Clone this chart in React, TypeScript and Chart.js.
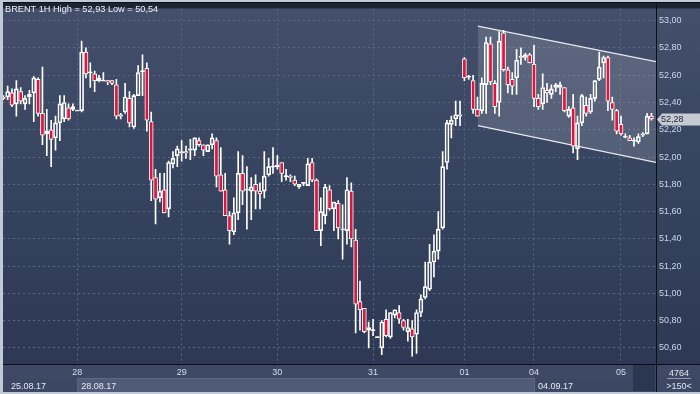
import React, { useEffect, useRef } from 'react';
import { Chart, registerables } from 'chart.js';

Chart.register(...registerables);

const FONT = '"Liberation Sans", Arial, sans-serif';

const titleText = 'BRENT 1H High = 52,93 Low = 50,54';

const opens = [
  52.43, 52.44, 52.47, 52.39, 52.48, 52.39, 52.44, 52.47, 52.57, 52.32,
  52.17, 52.20, 52.14, 52.25, 52.28, 52.36, 52.35, 52.34, 52.34, 52.77,
  52.62, 52.61, 52.56, 52.56, 52.56, 52.56, 52.53, 52.30, 52.33, 52.43,
  52.22, 52.45, 52.63, 52.65, 52.26, 51.85, 51.70, 51.76, 51.62, 51.95,
  52.01, 52.03, 52.04, 52.05, 52.05, 52.12, 52.09, 52.04, 52.09, 52.12,
  51.87, 51.76, 51.57, 51.45, 51.59, 51.88, 51.76, 51.75, 51.80, 51.75,
  51.75, 51.87, 51.93, 51.93, 51.96, 51.86, 51.86, 51.83, 51.78, 51.81,
  51.79, 51.96, 51.83, 51.46, 51.57, 51.76, 51.62, 51.66, 51.47, 51.46,
  51.75, 51.39, 50.94, 50.89, 50.73, 50.73, 50.68, 50.60, 50.81, 50.68,
  50.84, 50.86, 50.80, 50.72, 50.74, 50.70, 50.86, 50.97, 51.03, 51.23,
  51.31, 51.48, 51.96, 52.24, 52.28, 52.30, 52.72, 52.59, 52.56, 52.35,
  52.34, 52.53, 52.83, 52.54, 52.40, 52.91, 52.64, 52.57, 52.58, 52.73,
  52.73, 52.75, 52.68, 52.43, 52.39, 52.49, 52.46, 52.51, 52.51, 52.51,
  52.30, 52.36, 52.06, 52.25, 52.38, 52.33, 52.43, 52.57, 52.69, 52.73,
  52.40, 52.34, 52.24, 52.15, 52.14, 52.12, 52.11, 52.16, 52.17, 52.30,
];
const highs = [
  52.45, 52.52, 52.50, 52.56, 52.51, 52.45, 52.49, 52.59, 52.58, 52.66,
  52.35, 52.27, 52.30, 52.45, 52.45, 52.39, 52.39, 52.34, 52.85, 52.80,
  52.69, 52.63, 52.60, 52.62, 52.56, 52.56, 52.57, 52.32, 52.54, 52.48,
  52.46, 52.67, 52.75, 52.69, 52.33, 51.91, 51.88, 51.88, 51.97, 52.04,
  52.08, 52.12, 52.08, 52.13, 52.14, 52.14, 52.09, 52.09, 52.17, 52.14,
  52.07, 51.88, 51.60, 51.70, 52.04, 52.01, 51.93, 51.85, 51.87, 51.81,
  52.04, 51.99, 52.07, 52.01, 51.96, 51.91, 51.87, 51.86, 51.80, 51.81,
  51.99, 51.99, 51.84, 51.70, 51.80, 51.79, 51.67, 51.68, 51.65, 51.85,
  51.81, 51.47, 51.09, 50.89, 50.79, 50.81, 50.68, 50.80, 50.88, 50.86,
  50.88, 50.91, 50.81, 50.81, 50.80, 50.88, 50.99, 51.23, 51.36, 51.43,
  51.60, 52.04, 52.27, 52.30, 52.41, 52.41, 52.73, 52.60, 52.60, 52.44,
  52.58, 52.88, 52.88, 52.56, 52.92, 52.93, 52.66, 52.62, 52.79, 52.80,
  52.76, 52.76, 52.82, 52.46, 52.61, 52.54, 52.53, 52.54, 52.55, 52.51,
  52.37, 52.46, 52.30, 52.46, 52.44, 52.46, 52.56, 52.77, 52.74, 52.74,
  52.44, 52.35, 52.30, 52.17, 52.16, 52.14, 52.17, 52.18, 52.32, 52.32,
];
const lows = [
  52.42, 52.42, 52.37, 52.30, 52.39, 52.35, 52.39, 52.26, 52.30, 52.09,
  52.01, 51.93, 52.05, 52.12, 52.26, 52.27, 52.34, 52.34, 52.33, 52.58,
  52.51, 52.48, 52.55, 52.56, 52.53, 52.53, 52.28, 52.28, 52.32, 52.22,
  52.21, 52.45, 52.45, 52.19, 51.68, 51.51, 51.67, 51.59, 51.56, 51.92,
  51.93, 51.97, 51.99, 51.98, 52.01, 52.08, 52.01, 52.04, 52.06, 51.78,
  51.75, 51.57, 51.36, 51.43, 51.54, 51.65, 51.47, 51.54, 51.62, 51.62,
  51.70, 51.86, 51.88, 51.91, 51.82, 51.83, 51.82, 51.79, 51.77, 51.79,
  51.79, 51.82, 51.46, 51.35, 51.51, 51.61, 51.46, 51.40, 51.25, 51.36,
  51.34, 50.71, 50.73, 50.71, 50.60, 50.69, 50.68, 50.55, 50.68, 50.67,
  50.82, 50.78, 50.73, 50.65, 50.54, 50.56, 50.83, 50.96, 51.02, 51.12,
  51.25, 51.47, 51.91, 52.14, 52.23, 52.23, 52.56, 52.57, 52.32, 52.30,
  52.32, 52.32, 52.53, 52.32, 52.30, 52.63, 52.47, 52.46, 52.46, 52.68,
  52.71, 52.69, 52.37, 52.35, 52.35, 52.40, 52.43, 52.48, 52.46, 52.33,
  52.29, 52.03, 51.98, 52.23, 52.30, 52.32, 52.41, 52.56, 52.58, 52.34,
  52.27, 52.17, 52.16, 52.14, 52.12, 52.08, 52.10, 52.15, 52.17, 52.27,
];
const closes = [
  52.44, 52.48, 52.38, 52.50, 52.41, 52.43, 52.46, 52.58, 52.32, 52.16,
  52.19, 52.13, 52.25, 52.39, 52.40, 52.28, 52.37, 52.34, 52.77, 52.61,
  52.62, 52.56, 52.58, 52.56, 52.55, 52.54, 52.30, 52.31, 52.44, 52.25,
  52.45, 52.62, 52.63, 52.27, 51.83, 51.69, 51.75, 51.59, 51.96, 51.99,
  52.06, 52.04, 52.03, 52.06, 52.14, 52.09, 52.05, 52.09, 52.14, 51.86,
  51.75, 51.57, 51.46, 51.59, 51.88, 51.75, 51.76, 51.78, 51.75, 51.73,
  51.86, 51.93, 51.93, 51.94, 51.88, 51.86, 51.85, 51.80, 51.80, 51.81,
  51.95, 51.83, 51.46, 51.60, 51.78, 51.62, 51.67, 51.48, 51.47, 51.76,
  51.40, 50.92, 50.88, 50.72, 50.75, 50.73, 50.68, 50.79, 50.69, 50.86,
  50.88, 50.81, 50.75, 50.75, 50.68, 50.86, 50.96, 51.05, 51.23, 51.31,
  51.47, 51.93, 52.25, 52.27, 52.31, 52.31, 52.58, 52.59, 52.35, 52.30,
  52.54, 52.84, 52.55, 52.37, 52.85, 52.64, 52.53, 52.52, 52.71, 52.74,
  52.75, 52.69, 52.43, 52.37, 52.51, 52.47, 52.50, 52.53, 52.53, 52.34,
  52.35, 52.08, 52.25, 52.45, 52.32, 52.43, 52.56, 52.66, 52.73, 52.41,
  52.35, 52.19, 52.17, 52.15, 52.12, 52.12, 52.15, 52.17, 52.30, 52.28,
];

const dayStarts = [17, 41, 63, 85, 106, 122, 142];
const dayLabels = ['28', '29', '30', '31', '01', '04', '05'];
const weekStarts = [0, 17, 122];
const weekLabels = ['25.08.17', '28.08.17', '04.09.17'];
const yTicks = [50.6, 50.8, 51.0, 51.2, 51.4, 51.6, 51.8, 52.0, 52.2, 52.4, 52.6, 52.8, 53.0];
const channelX = [109.1, 150.05];
const channelUpper = [52.96, 52.70];
const channelLower = [52.23, 51.96];
const barsTotal = '4764';
const barsVisible = '>150<';

const fmt = (v: number) => v.toFixed(2).replace('.', ',');
const GRID = '#5a6782';
const DASH = [2, 3];

export default function App() {
  const ref = useRef<HTMLCanvasElement | null>(null);

  useEffect(() => {
    document.body.style.margin = '0';
    const canvas = ref.current;
    if (!canvas) return;

    const bodyData = opens.map((o, i) => {
      const c = closes[i];
      let lo = Math.min(o, c);
      let hi = Math.max(o, c);
      if (hi - lo < 0.006) {
        const m = (hi + lo) / 2;
        lo = m - 0.004;
        hi = m + 0.004;
      }
      return { x: i, y: [lo, hi] };
    });
    const bodyColors = opens.map((o, i) =>
      Math.abs(closes[i] - o) < 0.006 ? '#ffffff' : closes[i] < o ? '#e0143c' : 'rgba(0,0,0,0)'
    );
    const upperWick = opens.map((o, i) => ({ x: i, y: [Math.max(o, closes[i]), highs[i]] }));
    const lowerWick = opens.map((o, i) => ({ x: i, y: [lows[i], Math.min(o, closes[i])] }));

    const decor = {
      id: 'decor',
      beforeDraw(chart: any) {
        const { ctx, chartArea: a, width, height } = chart;
        ctx.save();
        ctx.fillStyle = '#c2c9d6';
        ctx.fillRect(0, 0, width, height);
        ctx.fillStyle = '#1c2333';
        ctx.fillRect(3, 2, width - 3, 390);
        const g = ctx.createLinearGradient(0, a.top, 0, a.bottom);
        g.addColorStop(0, '#434f6b');
        g.addColorStop(0.5, '#36435f');
        g.addColorStop(1, '#2d3954');
        ctx.fillStyle = g;
        ctx.fillRect(3, a.top, width - 3, a.bottom - a.top);
        // bottom rows
        ctx.fillStyle = '#3d4965';
        ctx.fillRect(3, a.bottom, width - 3, 14);
        ctx.fillStyle = '#3b4763';
        ctx.fillRect(3, a.bottom + 14, width - 3, 392 - a.bottom - 14);
        const xs = chart.scales.x;
        const wx1 = xs.getPixelForValue(weekStarts[1]);
        const wx2 = xs.getPixelForValue(weekStarts[2]);
        ctx.fillStyle = '#4f5b78';
        ctx.fillRect(wx1, a.bottom + 14, wx2 - wx1, 392 - a.bottom - 14);
        ctx.fillStyle = '#5d6985';
        ctx.fillRect(wx1, a.bottom + 14, wx2 - wx1, 1);
        ctx.fillRect(wx1, a.bottom + 14, 1, 392 - a.bottom - 14);
        ctx.fillRect(wx2, a.bottom + 14, 1, 392 - a.bottom - 14);
        // scroll box
        ctx.fillStyle = '#2b3650';
        ctx.fillRect(a.right - 23, a.bottom + 1, 22, 392 - a.bottom - 2);
        ctx.restore();
      },
      afterDraw(chart: any) {
        const { ctx, chartArea: a, width } = chart;
        const xs = chart.scales.x;
        const ys = chart.scales.y;
        ctx.save();
        // separators
        ctx.fillStyle = '#0b0f18';
        ctx.fillRect(a.right, 2, 1, 390);
        ctx.fillRect(3, a.bottom, width - 3, 1);
        ctx.fillRect(3, 2, width - 3, 1);
        // title
        ctx.font = '9.2px ' + FONT;
        ctx.fillStyle = '#eef1f7';
        ctx.textBaseline = 'alphabetic';
        ctx.textAlign = 'left';
        ctx.fillText(titleText, 5, 12);
        // week labels
        ctx.font = '9px ' + FONT;
        ctx.fillStyle = '#e4e9f2';
        weekLabels.forEach((lbl, k) => {
          const px = xs.getPixelForValue(weekStarts[k]);
          const tx = Math.max(a.left + 8, px + 4);
          ctx.fillText(lbl, tx, 389);
        });
        // bar counter
        const cx = (a.right + width) / 2 + 1;
        ctx.textAlign = 'center';
        ctx.fillStyle = '#dfe5f0';
        ctx.fillText(barsTotal, cx, 376);
        ctx.fillText(barsVisible, cx, 389);
        ctx.fillStyle = '#8e9ab2';
        ctx.fillRect(cx - 12, 378, 24, 1);
        // price tag
        const last = closes[closes.length - 1];
        const y = Math.round(ys.getPixelForValue(last)) + 0.5;
        ctx.fillStyle = '#c6cad2';
        ctx.beginPath();
        ctx.moveTo(a.right + 1, y);
        ctx.lineTo(a.right + 6, y - 6);
        ctx.lineTo(width, y - 6);
        ctx.lineTo(width, y + 6);
        ctx.lineTo(a.right + 6, y + 6);
        ctx.closePath();
        ctx.fill();
        ctx.fillStyle = '#1d2334';
        ctx.textAlign = 'left';
        ctx.textBaseline = 'middle';
        ctx.fillText(fmt(last), a.right + 5, y + 0.5);
        ctx.restore();
      },
    };

    const chart = new Chart(canvas, {
      type: 'bar',
      data: {
        datasets: [
          {
            type: 'bar',
            data: bodyData as any,
            backgroundColor: bodyColors,
            borderColor: '#ffffff',
            borderWidth: 1,
            borderSkipped: false,
            barThickness: 4,
            grouped: false,
            order: 0,
          } as any,
          {
            type: 'bar',
            data: upperWick as any,
            backgroundColor: '#ffffff',
            borderWidth: 0,
            barThickness: 1,
            grouped: false,
            order: 1,
          } as any,
          {
            type: 'bar',
            data: lowerWick as any,
            backgroundColor: '#ffffff',
            borderWidth: 0,
            barThickness: 1,
            grouped: false,
            order: 1,
          } as any,
          {
            type: 'line',
            data: channelX.map((x, k) => ({ x, y: channelUpper[k] })),
            borderColor: '#e6e9ef',
            borderWidth: 1.3,
            pointRadius: 0,
            fill: false,
            order: 3,
          } as any,
          {
            type: 'line',
            data: channelX.map((x, k) => ({ x, y: channelLower[k] })),
            borderColor: '#e6e9ef',
            borderWidth: 1.3,
            pointRadius: 0,
            fill: '-1',
            backgroundColor: 'rgba(255,255,255,0.14)',
            order: 2,
          } as any,
        ],
      },
      options: {
        responsive: false,
        animation: false,
        events: [],
        layout: { padding: { left: 3, top: 3, right: 0, bottom: 0 } },
        plugins: { legend: { display: false }, tooltip: { enabled: false }, title: { display: false } },
        scales: {
          x: {
            type: 'linear',
            min: -0.07,
            max: 150.05,
            offset: false,
            grid: {
              offset: false,
              drawTicks: false,
              color: GRID,
              lineWidth: 1,
              borderDash: DASH,
            },
            border: { display: false, dash: DASH },
            ticks: {
              autoSkip: false,
              maxRotation: 0,
              padding: 3,
              color: '#d4dcee',
              font: { family: FONT, size: 9 },
              callback: (v: any) => {
                const k = dayStarts.indexOf(Number(v));
                return k >= 0 ? dayLabels[k] : '';
              },
            },
            afterBuildTicks: (s: any) => {
              s.ticks = dayStarts.map((v) => ({ value: v }));
            },
            afterFit: (s: any) => {
              s.height = 30;
            },
          } as any,
          y: {
            type: 'linear',
            position: 'right',
            min: 50.482,
            max: 53.09,
            grid: { drawTicks: false, color: GRID, lineWidth: 1, borderDash: DASH },
            border: { display: false, dash: DASH },
            ticks: {
              padding: 3,
              color: '#cbd6ee',
              font: { family: FONT, size: 9 },
              callback: (v: any) => fmt(Number(v)),
            },
            afterBuildTicks: (s: any) => {
              s.ticks = yTicks.map((v) => ({ value: v }));
            },
            afterFit: (s: any) => {
              s.width = 44;
            },
          } as any,
        },
      },
      plugins: [decor],
    });

    return () => chart.destroy();
  }, []);

  return (
    <div style={{ width: 700, height: 394 }}>
      <canvas ref={ref} width={700} height={394} style={{ display: 'block', width: 700, height: 394 }} />
    </div>
  );
}
